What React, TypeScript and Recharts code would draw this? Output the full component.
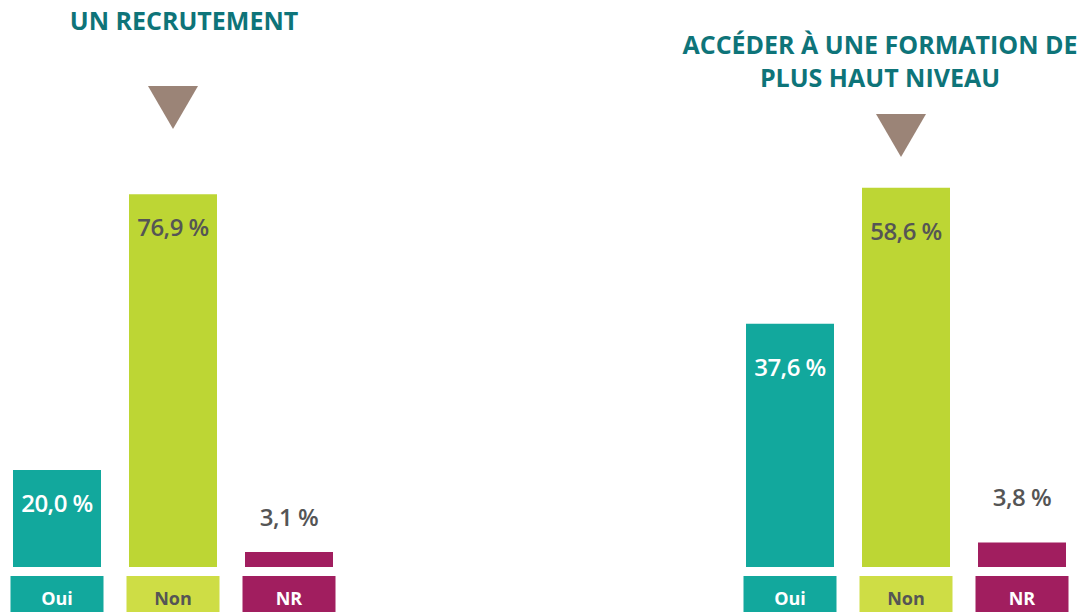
import React from "react";
import { BarChart, Bar, XAxis, YAxis, Cell, LabelList } from "recharts";

const categories = ["Oui", "Non", "NR"];
const recrutementValues = [20.0, 76.9, 3.1];
const formationValues = [37.6, 58.6, 3.8];

const barColors = ["#12a89d", "#bdd634", "#a11e5f"];
const boxColors = ["#12a89d", "#cedd45", "#a11e5f"];
const boxText = ["#ffffff", "#555555", "#ffffff"];
const valueText = ["#ffffff", "#555555", "#555555"];

const FONT = "'Open Sans', 'Noto Sans', sans-serif";

const fmt = (v: number) => v.toFixed(1).replace(".", ",") + " %";

function CategoryTick(props: any) {
  const { x, y, payload } = props;
  const i = categories.indexOf(payload.value);
  return (
    <g>
      <rect x={x - 46.5} y={y} width={93} height={40} fill={boxColors[i]} />
      <text
        x={x}
        y={y + 29}
        textAnchor="middle"
        fontFamily={FONT}
        fontWeight={700}
        fontSize={18}
        fill={boxText[i]}
      >
        {payload.value}
      </text>
    </g>
  );
}

function ValueLabel(offset: number) {
  return (props: any) => {
    const { x, y, width, value, index } = props;
    const above = index === 2;
    const cy = above ? y - offset : y + offset;
    return (
      <text
        x={x + width / 2}
        y={cy}
        dy={8}
        textAnchor="middle"
        fontFamily={FONT}
        fontWeight={600}
        fontSize={24}
        letterSpacing={-0.5}
        fill={valueText[index]}
      >
        {fmt(value)}
      </text>
    );
  };
}

function Group({ values, max, offset }: { values: number[]; max: number; offset: number }) {
  const data = categories.map((c, i) => ({ cat: c, value: values[i] }));
  return (
    <BarChart width={348} height={612} data={data} margin={{ top: 0, right: 0, left: 0, bottom: 0 }}>
      <XAxis
        dataKey="cat"
        axisLine={false}
        tickLine={false}
        tickSize={0}
        tickMargin={9}
        height={45}
        interval={0}
        tick={<CategoryTick />}
      />
      <YAxis hide domain={[0, max]} />
      <Bar dataKey="value" barSize={88} isAnimationActive={false}>
        {data.map((d, i) => (
          <Cell key={d.cat} fill={barColors[i]} />
        ))}
        <LabelList dataKey="value" content={ValueLabel(offset)} />
      </Bar>
    </BarChart>
  );
}

function Triangle({ left, top }: { left: number; top: number }) {
  return (
    <svg style={{ position: "absolute", left, top }} width={50} height={43}>
      <polygon points="0,0 50,0 25,43" fill="#9b8477" />
    </svg>
  );
}

const titleStyle: React.CSSProperties = {
  position: "absolute",
  fontFamily: FONT,
  fontWeight: 700,
  fontSize: 25,
  color: "#0e7479",
  textAlign: "center",
  lineHeight: "33px",
  whiteSpace: "nowrap",
};

export default function App() {
  return (
    <div
      style={{
        position: "absolute",
        left: 0,
        top: 0,
        width: 1086,
        height: 612,
        overflow: "hidden",
        background: "#ffffff",
      }}
    >
      <div style={{ ...titleStyle, left: 0, width: 368, top: 4 }}>UN RECRUTEMENT</div>
      <div style={{ ...titleStyle, left: 680, width: 400, top: 28 }}>
        ACCÉDER À UNE FORMATION DE
        <br />
        PLUS HAUT NIVEAU
      </div>
      <Triangle left={148} top={86} />
      <Triangle left={876} top={114} />
      <div style={{ position: "absolute", left: -1, top: 0 }}>
        <Group values={recrutementValues} max={117} offset={34} />
      </div>
      <div style={{ position: "absolute", left: 732, top: 0 }}>
        <Group values={formationValues} max={87.6} offset={44} />
      </div>
    </div>
  );
}
